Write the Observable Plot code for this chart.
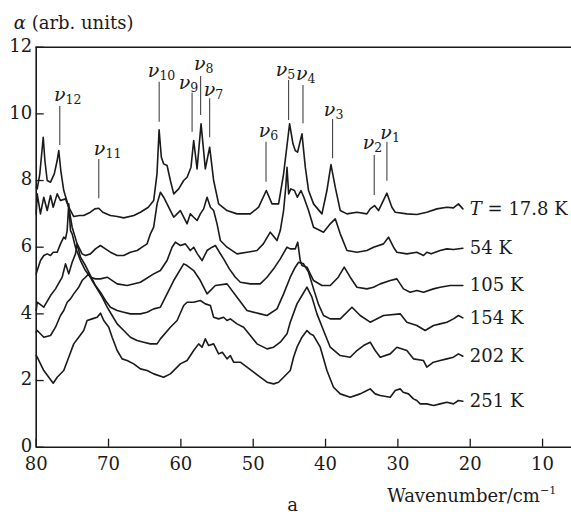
<!DOCTYPE html>
<html><head><meta charset="utf-8">
<script src="https://cdn.jsdelivr.net/npm/d3@7"></script>
<script src="https://cdn.jsdelivr.net/npm/@observablehq/plot@0.6"></script>
<style>body{margin:0;background:#fff} svg{display:block}</style>
</head><body><div id="chart"></div>
<script>
// Spectra: [wavenumber (cm^-1), alpha (arb. units)]
const T17_8 = [[80.0,7.8],[79.86,7.75],[79.5,8.2],[79.2,8.9],[79.03,9.3],[78.8,8.6],[78.48,8.0],[78.02,7.95],[77.5,8.2],[77.1,8.6],[76.88,8.9],[76.6,8.3],[76.19,7.7],[75.5,7.2],[74.81,6.92],[74.0,6.95],[73.43,6.95],[72.5,7.05],[71.9,7.15],[71.35,7.17],[70.8,7.05],[69.74,6.95],[68.8,6.92],[67.9,6.88],[66.5,6.95],[65.59,7.05],[64.5,7.2],[63.76,7.4],[63.3,8.2],[63.01,9.52],[62.7,8.7],[62.38,8.5],[61.91,8.45],[61.45,8.0],[60.99,7.6],[60.3,7.75],[59.61,8.0],[59.14,8.1],[58.6,8.4],[58.23,9.2],[57.76,8.35],[57.21,9.7],[56.62,8.35],[56.02,9.0],[55.47,8.0],[54.78,7.3],[53.62,7.1],[52.24,7.0],[50.4,7.0],[49.25,7.2],[48.19,7.7],[47.4,7.3],[46.49,7.3],[45.8,8.2],[44.97,9.7],[44.5,9.1],[44.19,8.9],[43.87,8.85],[43.26,9.4],[42.8,8.4],[42.35,7.7],[41.66,7.3],[40.5,7.0],[39.81,7.7],[39.25,8.48],[38.66,7.8],[37.97,7.1],[37.04,7.0],[35.66,7.05],[34.28,7.0],[33.83,7.15],[33.23,7.25],[32.68,7.1],[31.52,7.62],[30.83,7.2],[30.37,7.05],[28.76,7.0],[27.38,6.98],[26.0,7.05],[24.61,7.15],[23.23,7.2],[22.32,7.18],[21.63,7.3],[21.02,7.15]];
const T54 = [[80.0,7.0],[79.86,7.6],[79.41,7.0],[78.95,7.5],[78.48,7.1],[78.02,7.55],[77.65,7.2],[77.1,7.6],[76.64,7.4],[75.95,7.45],[75.5,7.2],[75.03,6.6],[74.34,6.1],[73.65,5.8],[73.19,5.75],[72.5,5.8],[71.81,5.95],[71.12,6.05],[70.43,5.95],[69.74,5.85],[68.81,5.75],[67.9,5.75],[66.98,5.85],[66.05,5.9],[65.36,6.0],[64.67,6.1],[64.21,6.4],[63.76,6.6],[63.29,7.3],[62.83,7.65],[62.38,7.5],[61.91,7.3],[61.45,7.1],[60.99,6.9],[60.52,7.0],[60.07,7.1],[59.61,6.9],[59.14,6.7],[58.69,7.0],[58.23,6.9],[57.76,6.8],[57.31,7.0],[56.85,7.15],[56.38,7.5],[55.92,7.2],[55.47,7.1],[55.0,6.7],[54.54,6.2],[53.62,6.0],[52.24,5.8],[50.86,5.85],[49.48,5.9],[48.6,6.1],[47.64,6.45],[46.71,6.2],[46.26,6.5],[45.8,7.1],[45.5,7.8],[45.33,8.4],[45.1,7.6],[44.8,7.75],[44.3,7.7],[43.9,7.5],[43.4,7.7],[43.0,7.5],[42.35,7.1],[41.66,6.6],[40.28,6.45],[39.35,6.7],[38.66,6.85],[37.97,6.4],[37.04,5.9],[35.66,5.85],[34.28,5.9],[33.37,6.0],[31.99,6.1],[31.3,6.3],[30.6,6.0],[30.14,5.85],[28.76,5.8],[27.38,5.85],[26.46,5.75],[26.0,5.85],[25.4,5.8],[24.16,5.9],[23.23,5.95],[22.32,5.93],[21.02,5.97]];
const T105 = [[80.0,5.2],[79.86,5.3],[79.41,5.6],[78.95,5.75],[78.48,5.8],[78.02,5.75],[77.65,5.85],[77.1,5.85],[76.64,6.1],[76.19,6.3],[75.95,6.25],[75.72,6.5],[75.5,7.3],[75.26,6.5],[75.03,6.4],[74.57,6.0],[73.88,5.6],[73.19,5.3],[72.5,5.1],[71.81,5.05],[71.12,5.05],[70.19,5.1],[68.81,4.9],[67.43,4.85],[65.59,4.95],[63.76,5.2],[62.83,5.3],[61.91,5.6],[61.22,6.0],[60.76,6.15],[60.07,6.05],[59.38,6.1],[58.69,5.9],[58.23,6.0],[57.72,5.8],[57.07,5.6],[56.38,5.9],[55.69,6.0],[55.23,6.05],[54.68,5.85],[54.09,5.65],[53.3,5.35],[52.47,5.1],[51.78,4.95],[50.4,4.9],[49.03,4.9],[48.09,5.1],[47.18,5.35],[46.26,5.65],[45.33,6.0],[44.88,5.95],[44.19,5.95],[43.85,6.15],[43.5,5.6],[43.26,5.45],[42.57,5.4],[41.66,5.0],[40.5,4.85],[39.35,4.85],[38.24,5.1],[37.42,5.4],[36.59,5.1],[35.66,4.8],[34.28,4.75],[33.37,4.8],[32.44,4.9],[31.06,5.0],[30.14,5.05],[29.23,4.75],[28.3,4.65],[27.38,4.7],[26.46,4.65],[25.08,4.75],[24.16,4.8],[22.78,4.85],[21.02,4.85]];
const T154 = [[80.0,4.1],[79.86,4.35],[78.95,4.2],[78.02,4.55],[77.33,4.75],[76.41,5.1],[75.95,5.5],[75.5,5.2],[75.03,5.55],[74.57,5.8],[74.34,6.1],[73.88,5.7],[73.19,5.45],[72.5,5.15],[71.81,4.85],[71.12,4.65],[70.43,4.4],[69.74,4.2],[68.81,4.1],[67.9,4.05],[66.98,4.0],[65.59,4.0],[64.67,4.05],[63.76,4.15],[62.83,4.2],[61.91,4.6],[60.99,5.0],[59.61,5.5],[59.14,5.45],[58.23,5.3],[57.31,5.0],[56.38,4.6],[55.23,4.85],[53.62,4.9],[52.24,4.5],[50.86,4.1],[49.03,4.0],[48.09,3.95],[46.71,4.15],[45.8,4.6],[44.88,5.1],[44.19,5.4],[43.73,5.55],[43.04,5.5],[42.35,5.25],[41.66,4.75],[41.0,4.3],[40.28,3.95],[39.35,3.85],[37.97,3.85],[36.35,4.2],[35.21,3.95],[33.83,3.75],[31.99,3.95],[29.68,4.0],[28.76,3.75],[27.38,3.65],[26.23,3.5],[25.08,3.65],[24.16,3.7],[23.23,3.75],[22.32,3.85],[21.63,3.95],[21.02,3.88]];
const T202 = [[80.0,3.45],[79.86,3.5],[78.95,3.3],[78.02,3.35],[77.33,3.6],[76.64,3.95],[76.19,4.1],[75.72,4.35],[75.26,4.45],[74.81,4.6],[74.12,4.8],[73.65,5.0],[73.19,5.1],[72.73,5.2],[72.27,5.0],[71.57,4.75],[70.88,4.5],[70.19,4.2],[69.5,3.95],[68.81,3.7],[67.9,3.5],[66.98,3.3],[66.05,3.2],[65.14,3.15],[64.21,3.1],[63.29,3.1],[62.83,3.25],[61.45,3.6],[60.52,3.8],[59.61,4.25],[59.14,4.35],[58.23,4.35],[57.31,4.4],[56.62,4.3],[55.92,4.25],[55.47,3.9],[54.78,3.85],[54.09,3.9],[53.62,3.8],[53.16,3.85],[52.24,3.7],[51.33,3.6],[50.4,3.35],[49.48,3.1],[48.09,2.95],[47.18,3.0],[46.26,3.15],[45.33,3.4],[44.88,3.75],[43.95,4.3],[43.26,4.55],[42.57,4.8],[41.88,4.5],[41.19,4.0],[40.28,3.5],[39.35,3.0],[37.97,2.75],[36.59,2.7],[35.66,2.9],[34.75,3.05],[33.83,3.15],[33.14,2.9],[32.44,2.7],[31.06,2.8],[30.14,3.0],[28.76,2.9],[27.85,2.65],[26.46,2.6],[26.0,2.4],[25.08,2.55],[24.16,2.6],[23.23,2.65],[22.32,2.7],[21.63,2.8],[21.02,2.73]];
const T251 = [[80.0,2.75],[79.86,2.7],[78.95,2.3],[78.26,2.1],[77.65,1.92],[77.1,2.1],[76.19,2.3],[75.5,2.7],[74.81,3.1],[74.12,3.3],[73.43,3.5],[72.96,3.8],[72.27,3.85],[71.57,3.9],[71.12,4.02],[70.66,3.8],[69.97,3.6],[69.5,3.3],[68.81,2.9],[68.12,2.65],[67.43,2.6],[66.52,2.5],[65.59,2.35],[64.67,2.3],[63.76,2.2],[62.38,2.1],[61.45,2.2],[60.07,2.5],[59.14,2.6],[58.23,2.9],[57.54,3.1],[57.07,3.0],[56.62,3.25],[56.16,3.05],[55.47,3.1],[54.78,2.8],[54.27,2.85],[53.62,2.65],[53.16,2.75],[52.71,2.55],[51.78,2.55],[50.86,2.4],[49.94,2.25],[49.03,2.1],[48.09,1.95],[47.18,1.9],[46.49,1.95],[45.8,2.1],[44.88,2.3],[44.42,2.7],[43.95,3.0],[43.26,3.3],[42.57,3.5],[42.11,3.4],[41.66,3.35],[40.73,3.0],[39.81,2.3],[38.9,1.8],[37.97,1.6],[36.59,1.5],[35.21,1.6],[34.28,1.7],[33.83,1.75],[33.14,1.6],[32.44,1.55],[31.06,1.5],[30.37,1.7],[29.68,1.75],[29.27,1.65],[28.54,1.6],[27.85,1.45],[27.38,1.4],[26.92,1.3],[26.0,1.3],[25.08,1.25],[24.16,1.3],[23.23,1.35],[22.32,1.3],[21.63,1.4],[21.02,1.38]];

const seriesNames = ["T = 17.8 K", "54 K", "105 K", "154 K", "202 K", "251 K"];
const seriesValues = [T17_8, T54, T105, T154, T202, T251];

// Mode markers nu_1 ... nu_12
const nuIndex   = ["1","2","3","4","5","6","7","8","9","10","11","12"];
const nuLineW   = [31.52, 33.27, 39.03, 43.12, 45.11, 48.23, 56.02, 57.27, 58.45, 63.0, 71.35, 76.74];
const nuLineTop = [9.15, 8.75, 9.83, 10.85, 11.0, 9.15, 10.45, 11.12, 10.62, 10.95, 8.63, 10.22];
const nuLineBot = [7.98, 7.55, 8.65, 9.7, 9.8, 7.95, 9.28, 9.95, 9.45, 9.75, 7.45, 9.05];
const nuTextW   = [30.83, 33.27, 38.64, 42.5, 45.29, 47.63, 55.24, 56.6, 58.69, 62.97, 70.43, 75.95];
const nuTextA   = [9.25, 8.95, 9.95, 11.02, 11.15, 9.3, 10.55, 11.32, 10.75, 11.1, 8.78, 10.4];

const xTicks = [80, 70, 60, 50, 40, 30, 20, 10];
const yTicks = [0, 2, 4, 6, 8, 10, 12];

const data = seriesValues.flatMap((pts, i) => pts.map(([w, a]) => ({series: seriesNames[i], w, a})));
const ends = seriesValues.map((pts, i) => ({name: seriesNames[i], w: pts[pts.length - 1][0], a: pts[pts.length - 1][1]}));
const modes = nuIndex.map((n, i) => ({n, w: nuLineW[i], hi: nuLineTop[i], lo: nuLineBot[i], tw: nuTextW[i], ta: nuTextA[i]}));

const F = "DejaVu Serif";
const ink = "#1a1a1a";

const chart = Plot.plot({
  width: 571, height: 519,
  marginLeft: 35.7, marginRight: 0, marginTop: 46.7, marginBottom: 72.3,
  style: {fontFamily: F, fontSize: "18px", color: ink, background: "#fff"},
  x: {domain: [80, 6]},
  y: {domain: [0, 12]},
  marks: [
    Plot.line(data, {x: "w", y: "a", z: "series", stroke: ink, strokeWidth: 1.6, strokeLinejoin: "round"}),
    Plot.ruleY([0], {stroke: ink, strokeWidth: 1.6}),
    Plot.ruleY([12], {stroke: ink, strokeWidth: 1.6}),
    Plot.ruleX([80], {stroke: ink, strokeWidth: 1.6}),
    Plot.axisX(xTicks, {tickSize: -8, fill: "none", stroke: ink, strokeWidth: 1.3, label: null}),
    Plot.axisX(xTicks, {tickSize: 0, tickPadding: 10, stroke: "none", fill: ink, fontSize: 18, label: null}),
    Plot.axisY(yTicks, {tickSize: -8, fill: "none", stroke: ink, strokeWidth: 1.3, label: null}),
    Plot.axisY(yTicks, {tickSize: 0, tickPadding: 4, stroke: "none", fill: ink, fontSize: 18, label: null, dy: -1}),
    Plot.ruleX(modes, {x: "w", y1: "lo", y2: "hi", stroke: "#444", strokeWidth: 1.1}),
    Plot.text(modes, {x: "tw", y: "ta", text: () => "ν", textAnchor: "end", lineAnchor: "bottom", fontSize: 19, fontStyle: "italic", fill: ink}),
    Plot.text(modes, {x: "tw", y: "ta", text: "n", textAnchor: "start", lineAnchor: "bottom", dy: 3, fontSize: 12.5, fill: ink}),
    Plot.text(ends, {x: "w", y: "a", text: "name", textAnchor: "start", lineAnchor: "middle", dx: 7, fontSize: 18, fill: ink}),
    Plot.text(["α (arb. units)"], {frameAnchor: "top-left", textAnchor: "start", lineAnchor: "bottom", dx: -22.4, dy: -18.7, fontSize: 18, fill: ink}),
    Plot.text(["Wavenumber/cm−1"], {frameAnchor: "bottom-right", textAnchor: "start", lineAnchor: "bottom", dx: -184.3, dy: 55, fontSize: 18, fill: ink}),
    Plot.text(["a"], {frameAnchor: "bottom-left", textAnchor: "middle", lineAnchor: "bottom", dx: 256.3, dy: 63.3, fontSize: 18, fill: ink})
  ]
});

// Rich text: italic symbols and superscript
d3.select(chart).selectAll("text").each(function () {
  const t = this.textContent;
  const sel = d3.select(this);
  if (t === "T = 17.8 K") {
    sel.text(null);
    sel.append("tspan").attr("font-style", "italic").text("T");
    sel.append("tspan").text(" = 17.8 K");
  } else if (t === "α (arb. units)") {
    sel.text(null);
    sel.append("tspan").attr("font-style", "italic").text("α");
    sel.append("tspan").text(" (arb. units)");
  } else if (t === "Wavenumber/cm−1") {
    sel.text(null);
    sel.append("tspan").text("Wavenumber/cm");
    sel.append("tspan").attr("font-size", 11).attr("dy", -8).text("−1");
  }
});

document.getElementById("chart").appendChild(chart);
</script>
</body></html>
